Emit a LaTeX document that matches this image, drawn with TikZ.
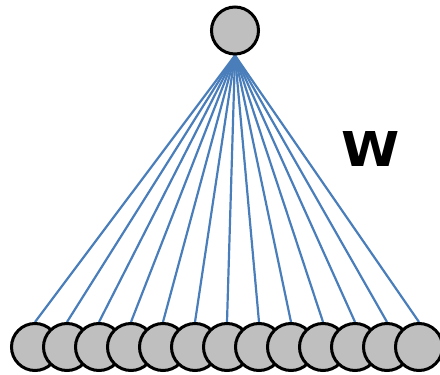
\documentclass[tikz,border=0pt]{standalone}
\usepackage{fontspec}
\setmainfont{DejaVu Sans}
\usetikzlibrary{backgrounds}
\begin{document}
\begin{tikzpicture}[x=1pt,y=-1pt,
  unit/.style={circle,draw=black,fill={rgb,255:red,191;green,191;blue,191},line width=3pt,minimum size=47pt,inner sep=0pt},
  link/.style={draw={rgb,255:red,74;green,126;blue,187},line width=2.2pt}]
\useasboundingbox (0,0) rectangle (440,375);
\node[unit] (t) at (235,30.5) {};
\foreach \i in {1,...,13} {
  \node[unit] (b\i) at ({35+(\i-1)*32},347) {};
}
\begin{scope}[on background layer]
\foreach \i in {1,...,13} {
  \draw[link] (t.south) -- (b\i.north);
}
\end{scope}
\node[font=\bfseries\fontsize{48}{56}\selectfont,xscale=1.1,inner sep=0pt] (w) at (371,149) {W};
\end{tikzpicture}
\end{document}
